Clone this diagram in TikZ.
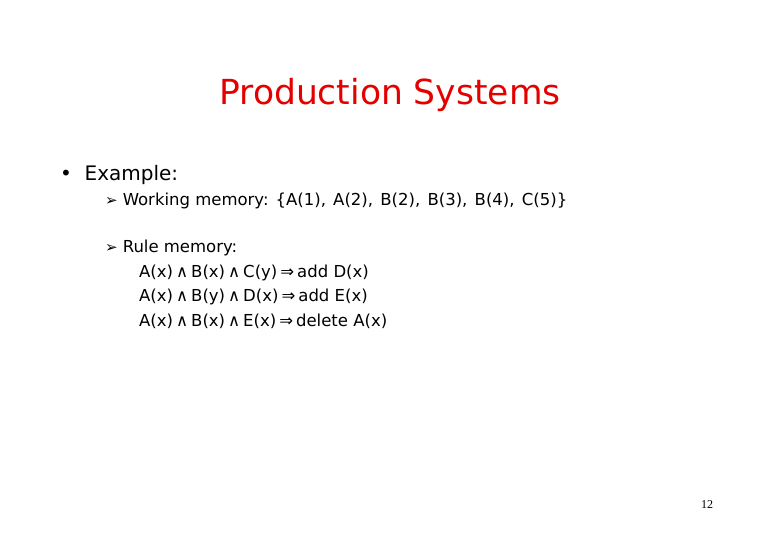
\documentclass[tikz,border=0pt]{standalone}
\usepackage{fontspec}
\setmainfont{DejaVu Sans}
\newfontfamily\serf{Liberation Serif}
\newcommand{\myand}{\hspace{3pt}∧\hspace{3pt}}
\newcommand{\myimp}{\hspace{3pt}⇒\hspace{3pt}}
\begin{document}
\begin{tikzpicture}[x=1pt,y=-1pt,
  txt/.style={anchor=west,inner sep=0pt,font=\fontsize{16.5}{20}\selectfont}]
\useasboundingbox[fill=white] (0,0) rectangle (780,540);
\node[inner sep=0pt,text=red!90!black,font=\fontsize{34.5}{40}\selectfont] (title) at (390,95) {Production Systems};
\node[txt,font=\fontsize{20}{24}\selectfont] (ex) at (60,175) {\textbullet\ \ Example:};
\node[txt] (wm) at (105,201) {{\fontsize{15}{16}\selectfont ➢}\hspace{5pt}Working memory: \{A(1),\hspace{2pt} A(2),\hspace{2pt} B(2),\hspace{2pt} B(3),\hspace{2pt} B(4),\hspace{2pt} C(5)\}};
\node[txt] (rm) at (105,248) {{\fontsize{15}{16}\selectfont ➢}\hspace{5pt}Rule memory:};
\node[txt] (r1) at (139,273) {A(x)\myand B(x)\myand C(y)\myimp add D(x)};
\node[txt] (r2) at (139,297) {A(x)\myand B(y)\myand D(x)\myimp add E(x)};
\node[txt] (r3) at (139,321) {A(x)\myand B(x)\myand E(x)\myimp delete A(x)};
\node[inner sep=0pt,font=\serf\fontsize{12}{14}\selectfont] (pg) at (707,505) {12};
\end{tikzpicture}
\end{document}
